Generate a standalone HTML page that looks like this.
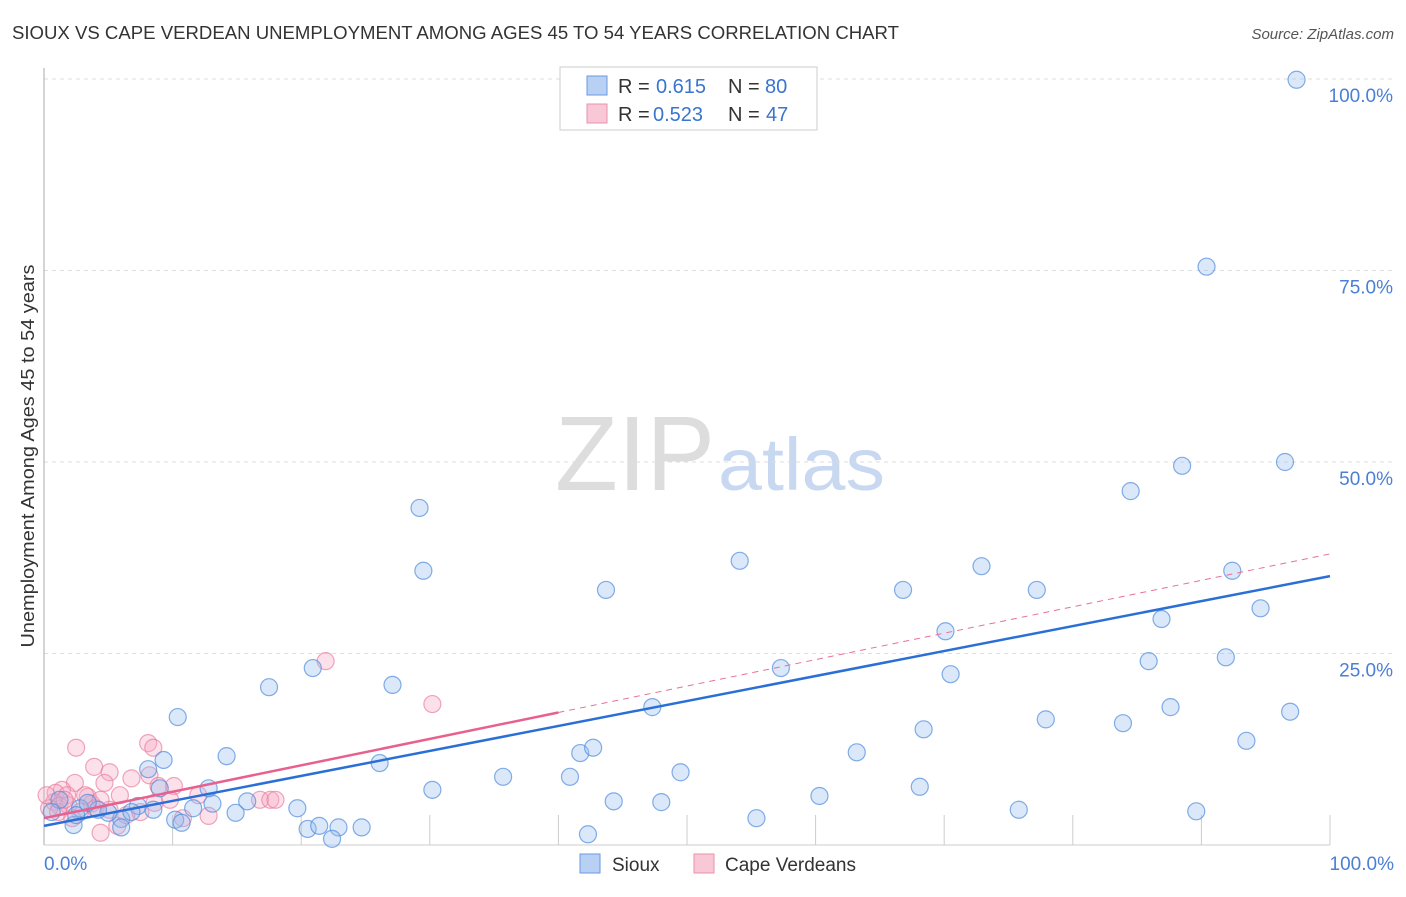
<!DOCTYPE html>
<html><head><meta charset="utf-8"><style>
body{margin:0;background:#fff;font-family:"Liberation Sans",sans-serif}
svg text{font-family:"Liberation Sans",sans-serif}
</style></head><body>
<svg width="1406" height="892">
<text x="12" y="39" font-size="18" fill="#333" textLength="887" lengthAdjust="spacingAndGlyphs">SIOUX VS CAPE VERDEAN UNEMPLOYMENT AMONG AGES 45 TO 54 YEARS CORRELATION CHART</text>
<text x="1394" y="39" font-size="15" fill="#555" font-style="italic" text-anchor="end">Source: ZipAtlas.com</text>
<text x="555" y="490" font-size="106" fill="#ddd" font-family="Liberation Serif" textLength="160" lengthAdjust="spacingAndGlyphs">ZIP</text>
<text x="718" y="490" font-size="74" fill="#c8d8f0" textLength="167" lengthAdjust="spacingAndGlyphs">atlas</text>
<g id="grid"></g>
<line x1="44" y1="68" x2="44" y2="845" stroke="#aaa"/>
<line x1="44" y1="845" x2="1330" y2="845" stroke="#ccc"/>
<text x="34" y="456" font-size="18" fill="#333" text-anchor="middle" textLength="383" lengthAdjust="spacingAndGlyphs" transform="rotate(-90 34 456)">Unemployment Among Ages 45 to 54 years</text>
<text x="44" y="870" font-size="19" fill="#4a7fd4">0.0%</text>
<text x="1394" y="870" font-size="19" fill="#4a7fd4" text-anchor="end">100.0%</text>
<g id="pts"></g>
<g id="lines"></g>
<g>
<rect x="560" y="67" width="257" height="63" fill="#fff" stroke="#ccc"/>
<rect x="587" y="76" width="20" height="19" fill="#b8d0f4" stroke="#6a9ae0"/>
<rect x="587" y="104" width="20" height="19" fill="#f9c8d6" stroke="#ea90ac"/>
<text x="618" y="93" font-size="20" fill="#333">R =</text>
<text x="656" y="93" font-size="20" fill="#3a74d0">0.615</text>
<text x="728" y="93" font-size="20" fill="#333">N =</text>
<text x="765" y="93" font-size="20" fill="#3a74d0">80</text>
<text x="618" y="121" font-size="20" fill="#333">R =</text>
<text x="653" y="121" font-size="20" fill="#3a74d0">0.523</text>
<text x="728" y="121" font-size="20" fill="#333">N =</text>
<text x="766" y="121" font-size="20" fill="#3a74d0">47</text>
</g>
<g>
<rect x="580" y="854" width="20" height="19" fill="#b8d0f4" stroke="#6a9ae0"/>
<text x="612" y="871" font-size="19" fill="#333">Sioux</text>
<rect x="694" y="854" width="20" height="19" fill="#f9c8d6" stroke="#ea90ac"/>
<text x="725" y="871" font-size="19" fill="#333">Cape Verdeans</text>
</g>
</svg>
<script>
const yTicks=[25,50,75,100];
const xTicks=[0,10,20,30,40,50,60,70,80,90,100];
const siouxX=[97.4,90.4,88.5,96.5,84.5,29.2,29.5,54.1,43.7,66.8,72.9,77.2,92.4,94.6,86.9,70.1,85.9,91.9,57.3,70.5,20.9,17.5,27.1,10.4,47.3,87.6,77.9,83.9,96.9,68.4,93.5,63.2,41.7,42.7,14.2,9.3,8.1,26.1,35.7,40.9,49.5,30.2,68.1,44.3,48.0,60.3,75.8,89.6,55.4,42.3,20.5,21.4,22.9,24.7,22.4,19.7,15.8,13.1,12.8,14.9,11.6,10.2,10.7,9.0,8.5,7.3,6.0,6.0,5.0,4.2,2.8,2.3,1.2,0.6,3.4,6.8,2.5];
const siouxY=[99.9,75.5,49.5,50.0,46.2,44.0,35.8,37.1,33.3,33.3,36.4,33.3,35.8,30.9,29.5,27.9,24.0,24.5,23.1,22.3,23.1,20.6,20.9,16.7,18.0,18.0,16.4,15.9,17.4,15.1,13.6,12.1,12.0,12.7,11.6,11.1,9.9,10.7,8.9,8.9,9.5,7.2,7.6,5.7,5.6,6.4,4.6,4.4,3.5,1.4,2.1,2.5,2.3,2.3,0.8,4.8,5.7,5.4,7.4,4.2,4.8,3.3,2.9,7.4,4.6,5.1,3.4,2.3,4.2,4.6,4.8,2.6,5.9,4.3,5.5,4.3,3.9];
const capeX=[21.9,30.2,2.5,8.1,8.5,3.9,5.1,8.2,2.4,6.8,4.7,10.1,8.9,5.9,12.0,9.8,8.6,16.8,17.6,18.0,12.8,10.8,4.4,5.7,1.4,0.9,1.8,3.4,0.8,1.2,1.9,0.4,1.1,2.8,3.7,4.0,5.1,6.4,7.5,3.2,2.2,0.2,4.4,1.6];
const capeY=[24.0,18.4,12.7,13.3,12.7,10.2,9.5,9.1,8.1,8.7,8.1,7.7,7.7,6.5,6.5,5.9,5.5,5.9,5.9,5.9,3.8,3.5,1.6,2.5,7.2,6.8,6.5,6.3,5.6,5.1,5.2,4.8,4.3,4.3,5.4,4.8,4.6,3.9,4.3,6.5,3.5,6.5,5.9,5.9];
const siouxFit=[2.5,35.1];
const capeFit=[3.5,38.0];
const capeSolidEnd=40;
const X=v=>44+v*12.86, Y=v=>845-v*7.66;
const NS='http://www.w3.org/2000/svg';
function mk(t,a,p){const e=document.createElementNS(NS,t);for(const k in a)e.setAttribute(k,a[k]);p.appendChild(e);return e;}
const grid=document.getElementById('grid');
yTicks.forEach(t=>{
 const l=mk('line',{x1:44,x2:1394,y1:Y(t),y2:Y(t),stroke:'#ddd','stroke-dasharray':'4,4'},grid);
 
 
 const tx=mk('text',{x:1393,y:Y(t)+23,'font-size':19,fill:'#4a7fd4','text-anchor':'end'},grid);
 tx.textContent=t.toFixed(1)+'%';
 
 
});
xTicks.forEach(t=>{
 const l=mk('line',{x1:X(t),x2:X(t),y1:815,y2:845,stroke:'#ccc'},grid);
 
 
});
const pts=document.getElementById('pts');
capeX.forEach((v,i)=>{
 const c=mk('circle',{cx:X(v),cy:Y(capeY[i]),r:8.5,fill:'rgba(245,170,195,0.35)',stroke:'rgba(232,120,155,0.65)','stroke-width':1.2},pts);
 
 
});
siouxX.forEach((v,i)=>{
 const c=mk('circle',{cx:X(v),cy:Y(siouxY[i]),r:8.5,fill:'rgba(150,190,240,0.35)',stroke:'rgba(80,140,220,0.7)','stroke-width':1.2},pts);
 
 
});
const ln=document.getElementById('lines');
const cy=v=>capeFit[0]+(capeFit[1]-capeFit[0])*v/100;
let d=mk('line',{x1:X(capeSolidEnd),y1:Y(cy(capeSolidEnd)),x2:X(100),y2:Y(cy(100)),stroke:'#e87099','stroke-width':1,'stroke-dasharray':'6,5'},ln);


d=mk('line',{x1:X(0),y1:Y(cy(0)),x2:X(capeSolidEnd),y2:Y(cy(capeSolidEnd)),stroke:'#e8608e','stroke-width':2.5},ln);


d=mk('line',{x1:X(0),y1:Y(siouxFit[0]),x2:X(100),y2:Y(siouxFit[1]),stroke:'#2a6fd6','stroke-width':2.5},ln);


</script>
</body></html>
